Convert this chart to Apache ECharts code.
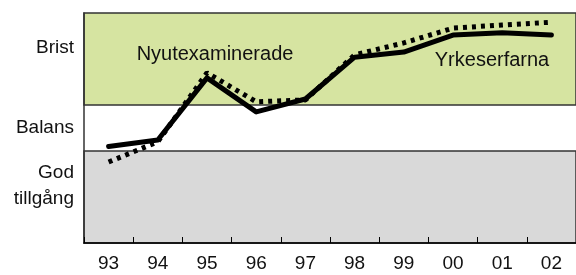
<!DOCTYPE html>
<html>
<head>
<meta charset="utf-8">
<script src="https://cdn.jsdelivr.net/npm/echarts@6/dist/echarts.min.js"></script>
<style>
  html, body { margin: 0; padding: 0; background: #fff; }
  #chart { width: 576px; height: 275px; }
</style>
</head>
<body>
<div id="chart"></div>
<script>
// år på x-axeln
const years = ["93", "94", "95", "96", "97", "98", "99", "00", "01", "02"];
// heldragen linje (Yrkeserfarna)
const yrkeserfarna = [0.10, 0.24, 1.59, 0.85, 1.13, 2.04, 2.15, 2.52, 2.57, 2.52];
// prickad linje (Nyutexaminerade)
const nyutexaminerade = [-0.24, 0.20, 1.70, 1.07, 1.11, 2.09, 2.35, 2.67, 2.74, 2.80];
// lägen på y-axeln
const levelValues = [2.25, 0.5, -0.75];
const levelLabels = ["Brist", "Balans", "God\ntillgång"];
// band: [från, till, färg]
const bands = [
  [1, 3, "#d6e4a1"],
  [-2, 0, "#d9d9d9"]
];

const font = "Liberation Sans, Arial, sans-serif";
const myChart = echarts.init(document.getElementById("chart"));

const option = {
  animation: false,
  textStyle: { fontFamily: font },
  grid: { left: 84, right: -8, top: 13, bottom: 32 },
  xAxis: {
    type: "category",
    data: years,
    boundaryGap: true,
    z: 10,
    axisLine: { onZero: false, lineStyle: { color: "#000", width: 1.5 } },
    axisTick: { show: true, inside: true, length: 6, interval: 0, lineStyle: { color: "#000", width: 1 } },
    axisLabel: { color: "#111", fontSize: 19, margin: 11 }
  },
  yAxis: {
    type: "value",
    min: -2,
    max: 3,
    z: 10,
    splitLine: { show: false },
    axisTick: { show: false },
    axisLine: { show: true, lineStyle: { color: "#333", width: 1.5 } },
    axisLabel: {
      customValues: levelValues,
      color: "#111",
      fontSize: 19,
      margin: 10,
      lineHeight: 26,
      formatter: function (v) {
        const i = levelValues.indexOf(v);
        return i >= 0 ? levelLabels[i] : "";
      }
    }
  },
  series: [
    {
      type: "line",
      name: "Yrkeserfarna",
      data: yrkeserfarna,
      symbol: "none",
      z: 5,
      lineStyle: { color: "#000", width: 5, cap: "round", join: "round" },
      markArea: {
        silent: true,
        data: bands.map(function (b) {
          return [
            { yAxis: b[0], itemStyle: { color: b[2], borderColor: "#333", borderWidth: 1.5 } },
            { yAxis: b[1] }
          ];
        })
      }
    },
    {
      type: "line",
      name: "Nyutexaminerade",
      data: nyutexaminerade,
      symbol: "none",
      z: 4,
      lineStyle: { color: "#000", width: 5, type: [4, 5], cap: "butt" }
    }
  ],
  graphic: [
    {
      type: "text",
      z: 100,
      x: 215, y: 44,
      style: { text: "Nyutexaminerade", fontSize: 20, fill: "#111", font: "20px " + font, textAlign: "center", textVerticalAlign: "top" }
    },
    {
      type: "text",
      z: 100,
      x: 492, y: 50,
      style: { text: "Yrkeserfarna", fontSize: 20, fill: "#111", font: "20px " + font, textAlign: "center", textVerticalAlign: "top" }
    }
  ]
};

myChart.setOption(option);
</script>
</body>
</html>
